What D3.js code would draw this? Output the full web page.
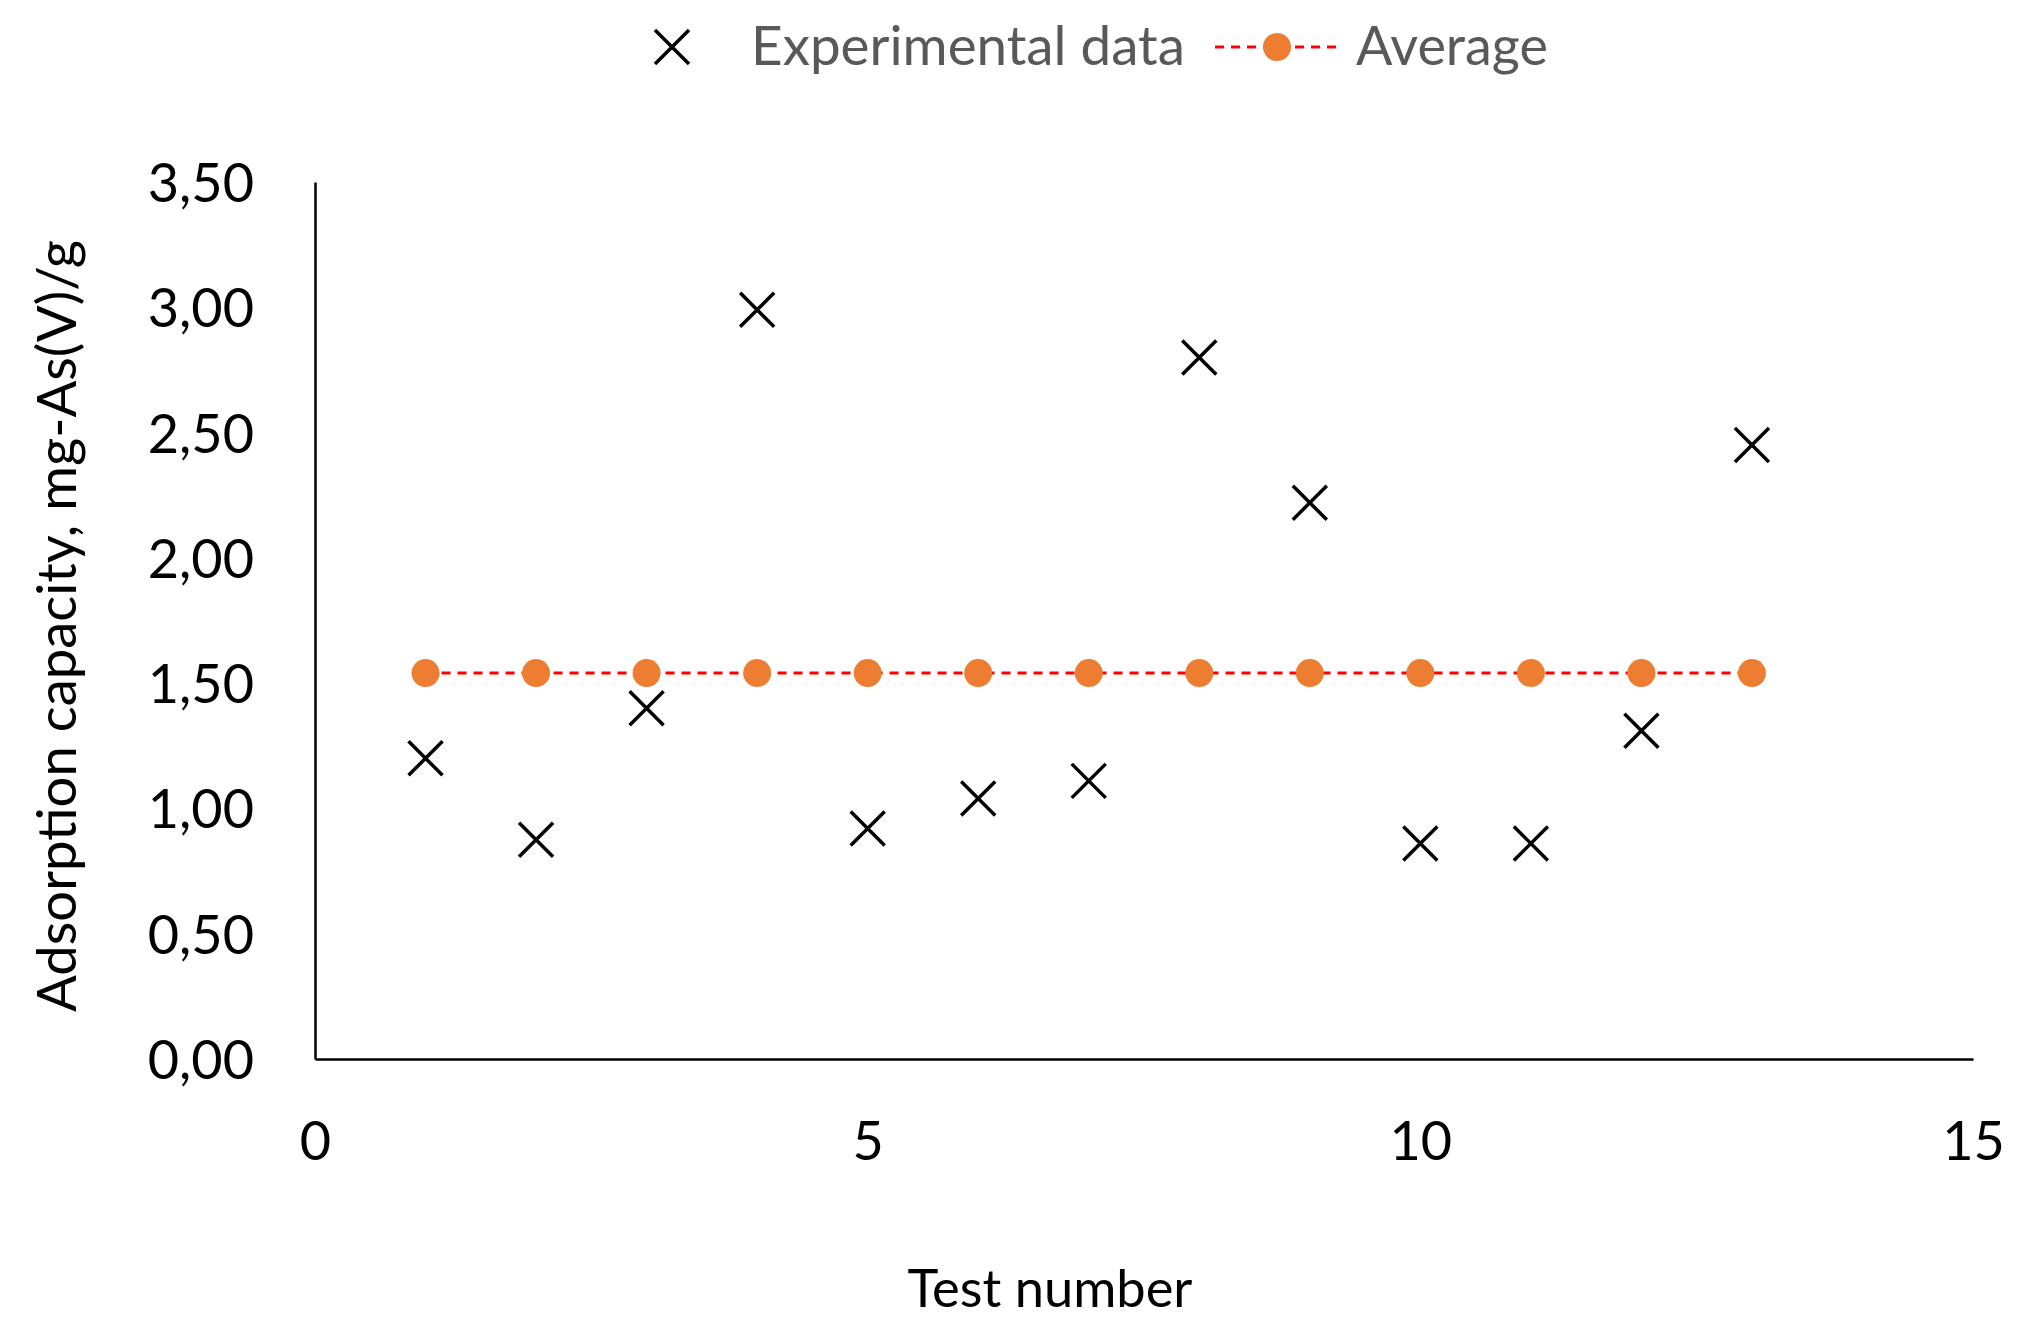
<!DOCTYPE html>
<html>
<head>
<meta charset="utf-8">
<script src="https://cdn.jsdelivr.net/npm/d3@7"></script>
<style>
  body { margin: 0; background: #fff; }
  text { font-family: Lato, "Open Sans", sans-serif; }
</style>
</head>
<body>
<script>
// data
const tests = [1, 2, 3, 4, 5, 6, 7, 8, 9, 10, 11, 12, 13];
const experimental = [1.20, 0.875, 1.40, 2.99, 0.92, 1.04, 1.11, 2.80, 2.22, 0.86, 0.86, 1.31, 2.45];
const average = [1.54, 1.54, 1.54, 1.54, 1.54, 1.54, 1.54, 1.54, 1.54, 1.54, 1.54, 1.54, 1.54];
const xTicks = [0, 5, 10, 15];
const yTicks = [0, 0.5, 1, 1.5, 2, 2.5, 3, 3.5];
const seriesNames = ['Experimental data', 'Average'];

const W = 2030, H = 1339;
const plot = { left: 315, right: 1973, top: 182, bottom: 1059 };

const svg = d3.select('body').append('svg')
    .attr('width', W)
    .attr('height', H);

const x = d3.scaleLinear().domain([0, 15]).range([plot.left, plot.right]);
const y = d3.scaleLinear().domain([0, 3.5]).range([plot.bottom, plot.top]);

// decimal comma
const fmt = d3.formatLocale({ decimal: ',', thousands: '.', grouping: [3], currency: ['', ''] }).format('.2f');

// axes
const yAxis = d3.axisLeft(y).tickValues(yTicks).tickSize(0).tickPadding(61).tickFormat(fmt);
const xAxis = d3.axisBottom(x).tickValues(xTicks).tickSize(0).tickPadding(63).tickFormat(d3.format('d'));

const gy = svg.append('g')
    .attr('transform', `translate(${plot.left},0)`)
    .call(yAxis);
const gx = svg.append('g')
    .attr('transform', `translate(0,${plot.bottom})`)
    .call(xAxis);

[gx, gy].forEach(g => {
  g.select('.domain').attr('stroke', '#000').attr('stroke-width', 2.5);
  g.selectAll('text').attr('font-size', 54).attr('fill', '#000')
    .style('font-family', 'Lato, "Open Sans", sans-serif');
});
gy.selectAll('text').attr('dy', '0.36em');

// average line + markers
const line = d3.line().x((d, i) => x(tests[i])).y(d => y(d));

svg.append('path')
    .datum(average)
    .attr('d', line)
    .attr('fill', 'none')
    .attr('stroke', '#ff0000')
    .attr('stroke-width', 3)
    .attr('stroke-dasharray', '9,7');

svg.selectAll('.avg')
  .data(average)
  .enter().append('circle')
    .attr('class', 'avg')
    .attr('cx', (d, i) => x(tests[i]))
    .attr('cy', d => y(d))
    .attr('r', 14)
    .attr('fill', '#ed7d31');

// experimental crosses
const h = 17;
const cross = `M${-h},${-h}L${h},${h}M${-h},${h}L${h},${-h}`;

svg.selectAll('.exp')
  .data(experimental)
  .enter().append('path')
    .attr('class', 'exp')
    .attr('d', cross)
    .attr('transform', (d, i) => `translate(${x(tests[i])},${y(d)})`)
    .attr('fill', 'none')
    .attr('stroke', '#000')
    .attr('stroke-width', 3.5);

// fit a text to a given width
function fitText(sel, width, base) {
  sel.attr('font-size', base);
  const len = sel.node().getComputedTextLength();
  sel.attr('font-size', base * width / len);
  return sel;
}

// axis titles
fitText(svg.append('text')
    .attr('x', 1050)
    .attr('y', 1307)
    .attr('text-anchor', 'middle')
    .attr('fill', '#000')
    .text('Test number'), 285, 52);

fitText(svg.append('text')
    .attr('transform', 'translate(76,626) rotate(-90)')
    .attr('text-anchor', 'middle')
    .attr('fill', '#000')
    .text('Adsorption capacity, mg-As(V)/g'), 772, 52);

// legend
const legend = svg.append('g');

legend.append('path')
    .attr('d', cross)
    .attr('transform', 'translate(672,47)')
    .attr('fill', 'none')
    .attr('stroke', '#000')
    .attr('stroke-width', 3.5);

fitText(legend.append('text')
    .attr('x', 751)
    .attr('y', 65)
    .attr('fill', '#595959')
    .text(seriesNames[0]), 434, 50);

legend.append('line')
    .attr('x1', 1215).attr('x2', 1339)
    .attr('y1', 47).attr('y2', 47)
    .attr('stroke', '#ff0000')
    .attr('stroke-width', 3)
    .attr('stroke-dasharray', '9,7');

legend.append('circle')
    .attr('cx', 1277).attr('cy', 47).attr('r', 14)
    .attr('fill', '#ed7d31');

fitText(legend.append('text')
    .attr('x', 1356)
    .attr('y', 65)
    .attr('fill', '#595959')
    .text(seriesNames[1]), 192, 50);
</script>
</body>
</html>
